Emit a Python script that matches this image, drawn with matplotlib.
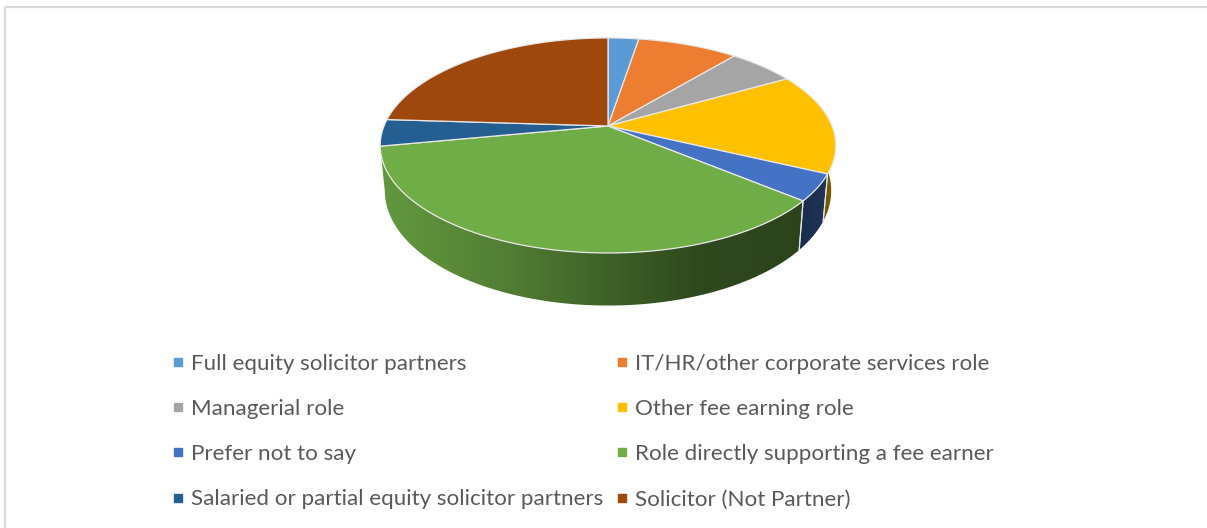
import numpy as np
import matplotlib
matplotlib.use("Agg")
import matplotlib.pyplot as plt
from matplotlib.lines import Line2D
from matplotlib.patches import Polygon, Rectangle
from matplotlib.colors import to_rgb

categories = ["Full equity solicitor partners", "IT/HR/other corporate services role",
              "Managerial role", "Other fee earning role", "Prefer not to say",
              "Role directly supporting a fee earner",
              "Salaried or partial equity solicitor partners", "Solicitor (Not Partner)"]
values = [2.6, 8.5, 5.7, 15.2, 4.0, 36.0, 4.0, 24.0]
colors = ["#5B9BD5", "#ED7D31", "#A5A5A5", "#FFC000", "#4472C4", "#70AD47", "#255E91", "#9E480E"]

W, H = 1207, 528
CX, CY, R, B, K = 608, 126, 224, 104, 0.181
CY2, R2, B2 = 170, 219.5, 111


def project(theta, cy=CY, r=R, b=B):
    u, v = np.sin(theta), np.cos(theta)
    w = 1 + K * v
    return CX + r * u / w, cy - b * v / w


fig = plt.figure(figsize=(W / 100, H / 100), dpi=100, facecolor="white")
ax = fig.add_axes([0, 0, 1, 1])
ax.axis("off")

ax.add_patch(Rectangle((5, 7), W + 20, H + 20, fc="none", ec="#D9D9D9", lw=1.6, zorder=0))

cum = np.cumsum([0] + values) / sum(values) * 2 * np.pi
EDGE = "#E8E8E8"

# side wall: a horizontal shading image clipped to each visible slice wall
xs = np.arange(370, 846)
shade = np.interp(xs, [381, 500, 608, 700, 800, 836], [0.88, 0.74, 0.56, 0.42, 0.39, 0.48])
for i, col in enumerate(colors):
    a0, a1 = cum[i], cum[i + 1]
    lo, hi = max(a0, np.radians(70)), min(a1, np.radians(262))
    if hi <= lo or a0 > np.radians(250):
        continue
    t = np.linspace(lo, hi, 200)
    xt, yt = project(t)
    xb, yb = project(t, CY2, R2, B2)
    wall = Polygon(np.column_stack([np.r_[xt, xb[::-1]], np.r_[yt, yb[::-1]]]),
                   closed=True, transform=ax.transData, fc="none", ec="none")
    ax.add_patch(wall)
    img = np.outer(shade, to_rgb(col)).reshape(1, len(xs), 3)
    im = ax.imshow(img, extent=(xs[0], xs[-1] + 1, 320, 100), aspect="auto",
                   interpolation="bilinear", zorder=2)
    im.set_clip_path(wall)
    for a in (a0, a1):
        if np.radians(95) < a < np.radians(255):
            p, q = project(a), project(a, CY2, R2, B2)
            ax.plot([p[0], q[0]], [p[1], q[1]], color=EDGE, lw=0.8, zorder=3)

# top face
for i, col in enumerate(colors):
    t = np.linspace(cum[i], cum[i + 1], max(3, int((cum[i + 1] - cum[i]) * 120)))
    x, y = project(t)
    pts = np.column_stack([np.r_[CX, x], np.r_[CY, y]])
    ax.add_patch(Polygon(pts, closed=True, fc=col, ec=EDGE, lw=0.9, joinstyle="round", zorder=4))

ax.set_xlim(0, W)
ax.set_ylim(H, 0)

handles = [Line2D([], [], ls="none", marker="s", ms=5.8, mfc=c, mec=c) for c in colors]
order = [0, 2, 4, 6, 1, 3, 5, 7]
ax.legend([handles[i] for i in order], [categories[i] for i in order], ncol=2,
          loc="upper left", bbox_to_anchor=(168 / W, 1 - 354 / H), frameon=False,
          labelcolor="#595959", handlelength=0.9, handletextpad=0.14,
          columnspacing=0.36, labelspacing=1.125, borderpad=0, borderaxespad=0, markerscale=1,
          prop={"family": ["Lato", "DejaVu Sans"], "size": 16.1})

fig.savefig("out.png", dpi=100, facecolor="white")
